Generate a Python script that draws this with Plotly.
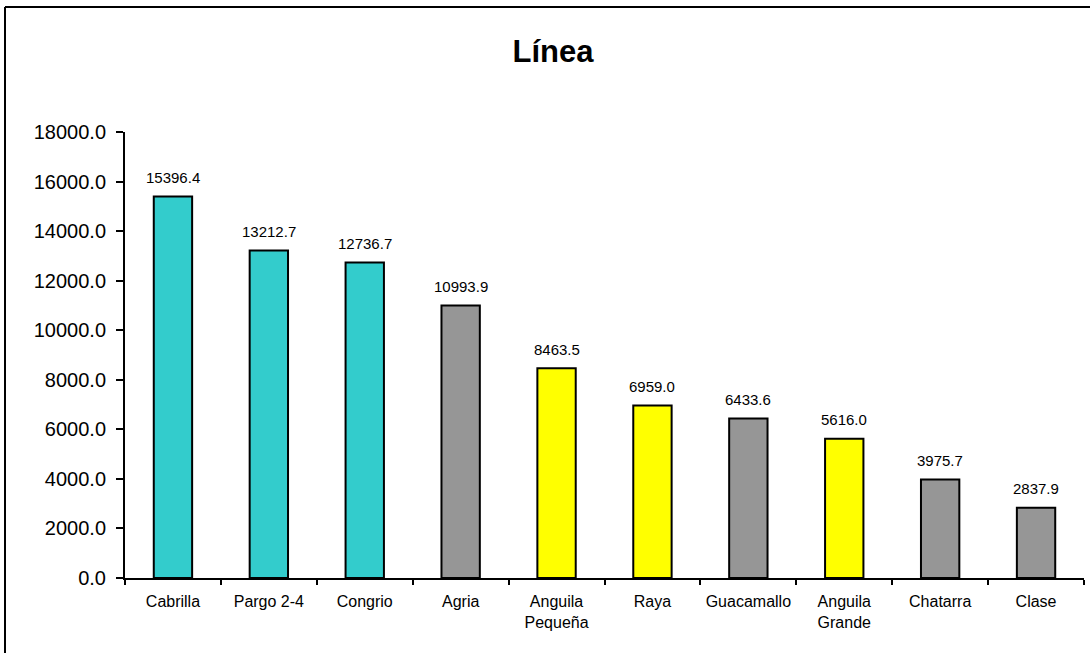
import plotly.graph_objects as go

categories = ["Cabrilla", "Pargo 2-4", "Congrio", "Agria", "Anguila<br>Pequeña",
              "Raya", "Guacamallo", "Anguila<br>Grande", "Chatarra", "Clase"]
values = [15396.4, 13212.7, 12736.7, 10993.9, 8463.5, 6959.0, 6433.6, 5616.0, 3975.7, 2837.9]
colors = ["#33CCCC", "#33CCCC", "#33CCCC", "#969696", "#FFFF00",
          "#FFFF00", "#969696", "#FFFF00", "#969696", "#969696"]
y_ticks = [0, 2000, 4000, 6000, 8000, 10000, 12000, 14000, 16000, 18000]

W, H = 1090, 653
L, R, T, B = 125, 6, 132, 75
pw, ph = W - L - R, H - T - B
FONT = "Liberation Sans, Arial"

fig = go.Figure(go.Bar(
    x=categories, y=values,
    marker=dict(color=colors, line=dict(color="black", width=2)),
    width=0.4,
    cliponaxis=False,
))

annotations = [
    dict(x=c, y=v, xref="x", yref="y", text=f"{v:.1f}", showarrow=False,
         yanchor="middle", xanchor="center", yshift=19,
         font=dict(size=15, color="black", family=FONT))
    for c, v in zip(categories, values)
]

fig.update_layout(
    width=W, height=H,
    margin=dict(l=L, r=R, t=T, b=B),
    paper_bgcolor="white", plot_bgcolor="white",
    font=dict(family=FONT, color="black"),
    title=dict(text="<b>Línea</b>", x=(553 - L) / pw, xref="paper", xanchor="center",
               y=1 - 51 / H, yanchor="middle", font=dict(size=31, color="black")),
    showlegend=False,
    annotations=annotations,
    xaxis=dict(showline=True, linecolor="black", linewidth=2, ticks="outside",
               tickson="boundaries", ticklen=5, tickwidth=2, tickcolor="black",
               tickfont=dict(size=16), showgrid=False, ticklabelstandoff=8),
    yaxis=dict(range=[0, 18000], tickvals=y_ticks, ticktext=[f"{v:.1f}" for v in y_ticks],
               showline=True, linecolor="black", linewidth=2, ticks="outside",
               ticklen=7, tickwidth=2, tickcolor="black", tickfont=dict(size=20),
               showgrid=False, zeroline=False, ticklabelstandoff=6),
    shapes=[
        dict(type="line", xref="paper", yref="paper",
             x0=(5 - L) / pw, x1=(W + 10 - L) / pw,
             y0=(H - B - 7) / ph, y1=(H - B - 7) / ph,
             line=dict(color="black", width=2)),
        dict(type="line", xref="paper", yref="paper",
             x0=(5 - L) / pw, x1=(5 - L) / pw,
             y0=(H - B - 7) / ph, y1=(H - B - H - 10) / ph,
             line=dict(color="black", width=2)),
    ],
)

fig.write_html("out.html", config={"displayModeBar": False},
               post_script="document.body.style.margin='0px';")
